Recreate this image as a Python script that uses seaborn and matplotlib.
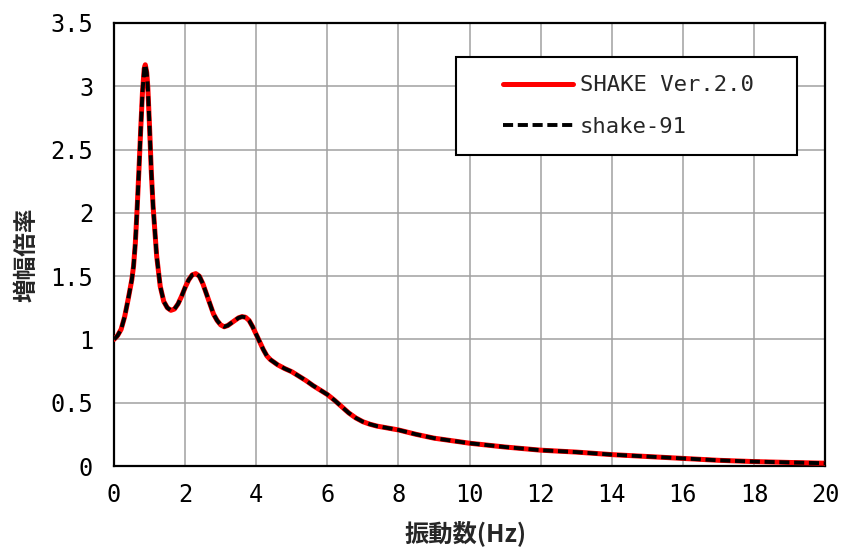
import numpy as np
import pandas as pd
import matplotlib
matplotlib.use("Agg")
import matplotlib.pyplot as plt
from matplotlib.patches import Rectangle
import seaborn as sns

freq = [0.0, 0.1, 0.2, 0.3, 0.4, 0.5, 0.55, 0.6, 0.65, 0.7, 0.75, 0.8, 0.85, 0.88, 0.92,
        0.95, 1.0, 1.05, 1.1, 1.2, 1.3, 1.4, 1.5, 1.6, 1.7, 1.8, 1.9, 2.0, 2.1, 2.2, 2.3,
        2.4, 2.5, 2.6, 2.7, 2.8, 2.9, 3.0, 3.1, 3.2, 3.3, 3.4, 3.5, 3.6, 3.7, 3.8, 3.9,
        4.0, 4.1, 4.2, 4.3, 4.4, 4.6, 4.8, 5.0, 5.2, 5.4, 5.6, 5.8, 6.0, 6.2, 6.4, 6.6,
        6.8, 7.0, 7.2, 7.4, 7.6, 7.8, 8.0, 8.5, 9.0, 9.5, 10.0, 11.0, 12.0, 13.0, 14.0,
        15.0, 16.0, 17.0, 18.0, 19.0, 20.0]
shake_v2 = [1.00, 1.03, 1.08, 1.18, 1.32, 1.47, 1.58, 1.76, 2.03, 2.33, 2.65, 2.95, 3.14, 3.17, 3.11,
            3.00, 2.68, 2.32, 2.05, 1.66, 1.42, 1.30, 1.25, 1.23, 1.24, 1.28, 1.34, 1.41, 1.47, 1.51, 1.52,
            1.50, 1.44, 1.36, 1.28, 1.20, 1.15, 1.115, 1.10, 1.11, 1.13, 1.15, 1.17, 1.18, 1.175, 1.15, 1.10,
            1.04, 0.98, 0.92, 0.87, 0.84, 0.80, 0.77, 0.745, 0.71, 0.675, 0.635, 0.60, 0.565, 0.52, 0.47, 0.42,
            0.38, 0.35, 0.33, 0.315, 0.305, 0.295, 0.285, 0.25, 0.22, 0.20, 0.18, 0.15, 0.125, 0.11, 0.09,
            0.075, 0.06, 0.045, 0.035, 0.028, 0.022]
shake_91 = list(shake_v2)
xticks = list(range(0, 21, 2))
yticks = [0, 0.5, 1, 1.5, 2, 2.5, 3, 3.5]
ytick_labels = ["0", "0.5", "1", "1.5", "2", "2.5", "3", "3.5"]

sns.set_theme(style="white")
plt.rcParams['font.family'] = ['Noto Sans CJK JP', 'DejaVu Sans']
mono = ['DejaVu Sans Mono', 'Noto Sans CJK JP']

fig = plt.figure(figsize=(8.42, 5.51), dpi=100)
# plot area: x 114..825 px, y 23..466 px
ax = fig.add_axes([114 / 842, (551 - 466) / 551, 711 / 842, 443 / 551])

df = pd.DataFrame({"freq": freq, "v2": shake_v2, "v91": shake_91})
sns.lineplot(data=df, x="freq", y="v2", ax=ax, color="#ff0000", lw=3.6,
             label="SHAKE Ver.2.0", zorder=3)
sns.lineplot(data=df, x="freq", y="v91", ax=ax, color="black", lw=2.8,
             label="shake-91", zorder=4, linestyle=(0, (2.6, 1.2)))

ax.set_xlim(0, 20)
ax.set_ylim(0, 3.5)
ax.set_xticks(xticks)
ax.set_yticks(yticks)
ax.set_xticklabels([str(v) for v in xticks], family=mono, fontsize=17)
ax.set_yticklabels(ytick_labels, family=mono, fontsize=17)
ax.grid(True, color="#a0a0a0", lw=1.1)
for s in ["top", "right", "left", "bottom"]:
    ax.spines[s].set_visible(True)
    ax.spines[s].set_color("black")
    ax.spines[s].set_linewidth(1.6)
ax.tick_params(axis="both", direction="in", length=6, width=1.4, colors="black")
ax.tick_params(axis="x", pad=12)
ax.tick_params(axis="y", pad=15)

ax.set_xlabel("振動数(Hz)", fontsize=17.5, fontweight="bold", va="center")
ax.xaxis.set_label_coords(0.494, (466 - 533) / 443)
ax.set_ylabel("増幅倍率", fontsize=17, fontweight="bold", va="center")
ax.yaxis.set_label_coords((27 - 114) / 711, (466 - 255) / 443)

# legend frame
ax.add_patch(Rectangle(((456 - 114) / 711, (466 - 155) / 443),
                       (797 - 456) / 711, (155 - 57) / 443,
                       transform=ax.transAxes, facecolor="white",
                       edgecolor="black", lw=1.5, zorder=5, clip_on=False))
leg = ax.legend(loc="center left", bbox_to_anchor=((503 - 114) / 711, (466 - 106) / 443),
                prop={"family": mono, "size": 16},
                frameon=False, borderpad=0, labelspacing=0.95,
                handlelength=3.15, handletextpad=0.3, borderaxespad=0)
leg.set_zorder(6)

fig.savefig("out.png", dpi=100)
